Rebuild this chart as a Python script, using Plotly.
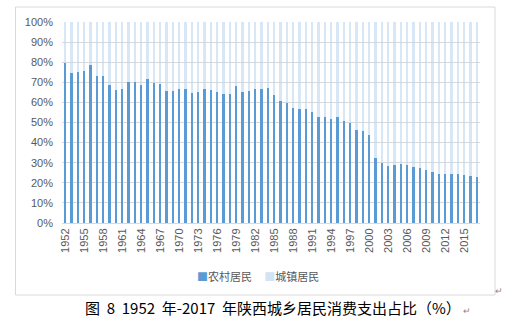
import plotly.graph_objects as go

years = list(range(1952, 2018))
rural = [79.7, 74.7, 75.0, 75.8, 78.5, 73.2, 73.2, 68.7, 66.0, 66.8,
         70.0, 70.2, 68.5, 71.5, 69.5, 69.3, 65.5, 65.8, 66.5, 66.5,
         64.8, 65.2, 66.8, 66.0, 65.2, 64.3, 64.3, 68.0, 65.2, 65.5,
         66.7, 66.7, 67.3, 63.5, 60.7, 59.8, 57.2, 56.8, 56.8, 55.3,
         52.7, 52.8, 51.7, 52.7, 50.7, 50.0, 46.3, 46.0, 43.8, 32.2,
         29.9, 28.4, 28.7, 29.3, 28.8, 27.7, 27.4, 26.4, 25.2, 24.4,
         24.4, 24.2, 24.2, 23.9, 23.6, 22.9]
urban = [round(100 - v, 1) for v in rural]
tick_years = [str(y) for y in range(1952, 2018, 3)]
y_ticks = list(range(0, 101, 10))
y_labels = [f"{v}%" for v in y_ticks]
series_names = ["农村居民", "城镇居民"]

x = [str(y) for y in years]
font_main = "Liberation Sans, Noto Sans CJK SC, sans-serif"
c_rural = "#5B9BD5"
c_urban = "rgba(189,215,238,0.6)"

fig = go.Figure()
fig.add_trace(go.Bar(x=x, y=rural, name=series_names[0], marker=dict(color=c_rural, line_width=0)))
fig.add_trace(go.Bar(x=x, y=urban, name=series_names[1], marker=dict(color=c_urban, line_width=0)))

W, H = 509, 327
L, R, T, B = 62, 29, 22, 104
pw, ph = W - L - R, H - T - B


def px(v):
    return (v - L) / pw


def py(v):
    return (H - B - v) / ph


legend_text = (f"<span style='color:{c_rural}'>■</span>{series_names[0]}"
               f"&nbsp;&nbsp;&nbsp;&nbsp;&nbsp;<span style='color:#D2E3F4'>■</span>{series_names[1]}")

sp = "&nbsp;&nbsp;"
caption = (f"图{sp}8{sp}1952{sp}年-2017{sp}年陕西城乡居民消费支出占比（%）"
           "<span style='font-size:9px;color:#888888'>&nbsp;↵</span>")

fig.update_layout(
    width=W, height=H,
    margin=dict(l=L, r=R, t=T, b=B),
    barmode="stack", bargap=0.6,
    paper_bgcolor="white", plot_bgcolor="white",
    font=dict(family=font_main, size=11, color="#595959"),
    showlegend=False,
    xaxis=dict(type="category", tickmode="array", tickvals=tick_years, ticktext=tick_years,
               tickangle=-90, showgrid=False, showline=True, linecolor="#D9D9D9",
               ticks="", tickfont=dict(size=11, color="#595959")),
    yaxis=dict(range=[0, 100], tickmode="array", tickvals=y_ticks, ticktext=y_labels,
               showgrid=True, gridcolor="#D9D9D9", gridwidth=1, zeroline=False,
               showline=False, ticks="", ticklabelstandoff=8,
               tickfont=dict(size=11, color="#595959")),
    shapes=[dict(type="rect", xref="paper", yref="paper",
                 x0=px(15.5), x1=px(495), y0=py(295), y1=py(7),
                 line=dict(color="#D9D9D9", width=1), fillcolor="rgba(0,0,0,0)", layer="below")],
    annotations=[
        dict(text=legend_text, xref="paper", yref="paper", x=px(258), y=py(276),
             xanchor="center", yanchor="middle", showarrow=False,
             font=dict(size=11, color="#595959", family="Noto Sans CJK SC")),
        dict(text=caption,
             xref="paper", yref="paper", x=px(83), y=py(307), xanchor="left", yanchor="middle",
             showarrow=False, font=dict(size=15, color="black", family="Noto Sans CJK SC")),
        dict(text="↵", xref="paper", yref="paper", x=px(499), y=py(291), xanchor="center", yanchor="middle",
             showarrow=False, font=dict(size=9, color="#888888")),
    ],
)

fig.write_html("out.html")
